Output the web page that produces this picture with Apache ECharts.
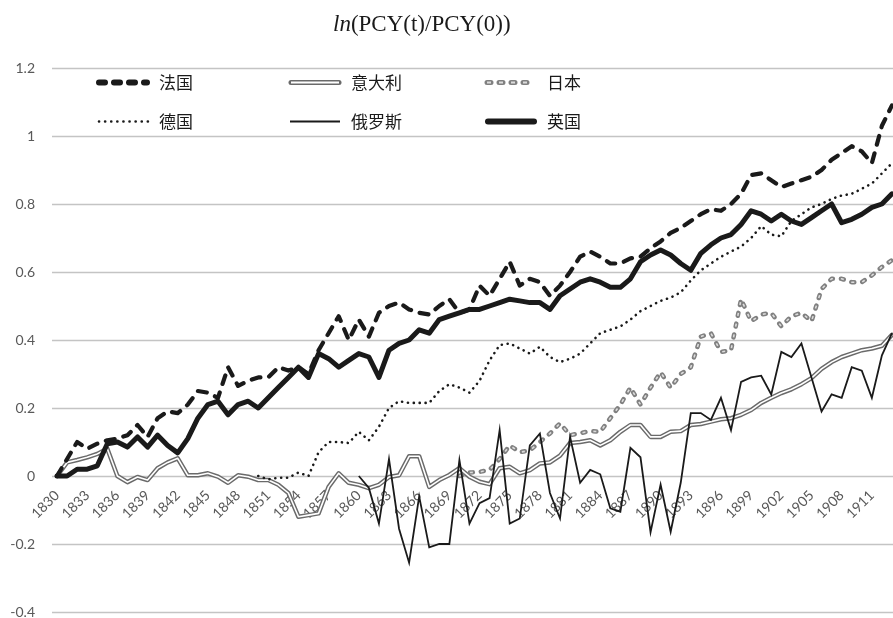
<!DOCTYPE html>
<html>
<head>
<meta charset="utf-8">
<script src="https://cdn.jsdelivr.net/npm/echarts@6/dist/echarts.min.js"></script>
<style>html,body{margin:0;padding:0;background:#fff;}#c{width:893px;height:618px;}</style>
</head>
<body>
<div id="c"></div>
<script>
// Categories: years 1830..1913
var years = [];
for (var y = 1830; y <= 1913; y++) years.push(String(y));

var yTicks = [-0.4, -0.2, 0, 0.2, 0.4, 0.6, 0.8, 1, 1.2];

var france = [0, 0.05, 0.1, 0.08, 0.095, 0.105, 0.11, 0.12, 0.15, 0.115,
  0.17, 0.19, 0.185, 0.21, 0.25, 0.245, 0.23, 0.32, 0.265, 0.28,
  0.29, 0.29, 0.32, 0.31, 0.32, 0.3, 0.37, 0.42, 0.47, 0.4,
  0.46, 0.41, 0.48, 0.5, 0.51, 0.49, 0.48, 0.475, 0.5, 0.52,
  0.48, 0.49, 0.56, 0.53, 0.58, 0.63, 0.56, 0.58, 0.57, 0.53,
  0.56, 0.6, 0.645, 0.66, 0.645, 0.625, 0.625, 0.64, 0.645, 0.67,
  0.69, 0.715, 0.73, 0.75, 0.77, 0.785, 0.78, 0.8, 0.83, 0.885,
  0.89, 0.87, 0.85, 0.86, 0.87, 0.88, 0.9, 0.93, 0.95, 0.97,
  0.955, 0.92, 1.03, 1.09];

var italy = [0, 0.04, 0.047, 0.055, 0.065, 0.08, 0.0, -0.018, -0.003, -0.012,
  0.023, 0.04, 0.052, 0.002, 0.002, 0.008, -0.002, -0.02, 0.002, -0.002,
  -0.012, -0.012, -0.026, -0.05, -0.12, -0.115, -0.11, -0.032, 0.008, -0.02,
  -0.026, -0.036, -0.026, -0.003, 0.002, 0.058, 0.058, -0.032, -0.012, 0.003,
  0.023, -0.002, -0.017, -0.024, 0.023, 0.027, 0.008, 0.017, 0.037, 0.04,
  0.06, 0.097, 0.1, 0.105, 0.09, 0.105, 0.13, 0.15, 0.15, 0.115,
  0.115, 0.13, 0.132, 0.15, 0.153, 0.16, 0.167, 0.17, 0.18, 0.194,
  0.215, 0.23, 0.244, 0.255, 0.27, 0.288, 0.315, 0.335, 0.35, 0.36,
  0.37, 0.375, 0.383, 0.415];

var japan = [null, null, null, null, null, null, null, null, null, null,
  null, null, null, null, null, null, null, null, null, null,
  null, null, null, null, null, null, null, null, null, null,
  null, null, null, null, null, null, null, null, null, null,
  0.0, 0.01, 0.012, 0.018, 0.05, 0.09, 0.07, 0.075, 0.1, 0.125,
  0.155, 0.12, 0.126, 0.132, 0.13, 0.17, 0.21, 0.26, 0.21, 0.26,
  0.305, 0.26, 0.3, 0.32, 0.41, 0.42, 0.365, 0.37, 0.52, 0.455,
  0.475, 0.48, 0.44, 0.47, 0.48, 0.455, 0.55, 0.58, 0.58, 0.57,
  0.57, 0.59, 0.615, 0.635];

var germany = [null, null, null, null, null, null, null, null, null, null,
  null, null, null, null, null, null, null, null, null, null,
  0.0, -0.01, -0.005, -0.005, 0.01, 0.0, 0.07, 0.1, 0.1, 0.097,
  0.13, 0.105, 0.145, 0.2, 0.22, 0.215, 0.215, 0.215, 0.25, 0.27,
  0.26, 0.245, 0.28, 0.34, 0.385, 0.39, 0.375, 0.36, 0.38, 0.35,
  0.335, 0.345, 0.36, 0.39, 0.42, 0.43, 0.44, 0.46, 0.485, 0.5,
  0.515, 0.525, 0.54, 0.575, 0.605, 0.625, 0.645, 0.66, 0.675, 0.7,
  0.735, 0.71, 0.705, 0.75, 0.77, 0.79, 0.8, 0.815, 0.825, 0.83,
  0.845, 0.86, 0.89, 0.92];

var russia = [null, null, null, null, null, null, null, null, null, null,
  null, null, null, null, null, null, null, null, null, null,
  null, null, null, null, null, null, null, null, null, null,
  0.0, -0.035, -0.14, 0.05, -0.155, -0.255, -0.06, -0.21, -0.2, -0.2,
  0.047, -0.14, -0.08, -0.065, 0.135, -0.14, -0.125, 0.09, 0.125, -0.05,
  -0.125, 0.115, -0.02, 0.018, 0.005, -0.095, -0.105, 0.083, 0.055, -0.165,
  -0.025, -0.164, -0.02, 0.185, 0.185, 0.165, 0.23, 0.135, 0.277, 0.29,
  0.295, 0.24, 0.365, 0.35, 0.39, 0.29, 0.19, 0.24, 0.23, 0.32,
  0.31, 0.23, 0.355, 0.42];

var uk = [0, 0.0, 0.02, 0.02, 0.03, 0.095, 0.1, 0.085, 0.115, 0.085,
  0.12, 0.09, 0.068, 0.11, 0.17, 0.21, 0.22, 0.18, 0.21, 0.22,
  0.2, 0.23, 0.26, 0.29, 0.32, 0.29, 0.36, 0.345, 0.32, 0.34,
  0.36, 0.35, 0.29, 0.37, 0.39, 0.4, 0.43, 0.42, 0.46, 0.47,
  0.48, 0.49, 0.49, 0.5, 0.51, 0.52, 0.515, 0.51, 0.51, 0.49,
  0.53, 0.55, 0.57, 0.58, 0.57, 0.555, 0.555, 0.58, 0.63, 0.65,
  0.665, 0.65, 0.625, 0.605, 0.655, 0.68, 0.7, 0.71, 0.74, 0.78,
  0.77, 0.75, 0.77, 0.75, 0.74, 0.76, 0.78, 0.8, 0.745, 0.755,
  0.77, 0.79, 0.8, 0.83];

var names = ['法国', '意大利', '日本', '德国', '俄罗斯', '英国'];

function icon(inner) {
  var s = '<svg xmlns="http://www.w3.org/2000/svg" width="54" height="12" viewBox="0 0 54 12">' + inner + '</svg>';
  return 'image://data:image/svg+xml;charset=utf-8,' + encodeURIComponent(s);
}
var icons = {
  '法国': icon('<line x1="3" y1="6" x2="51" y2="6" stroke="#1a1a1a" stroke-width="6" stroke-dasharray="6 9" stroke-linecap="round"/>'),
  '意大利': icon('<line x1="3" y1="6" x2="51" y2="6" stroke="#6a6a6a" stroke-width="5" stroke-linecap="round"/><line x1="3" y1="6" x2="51" y2="6" stroke="#fff" stroke-width="2"/>'),
  '日本': icon('<line x1="3" y1="6" x2="51" y2="6" stroke="#808080" stroke-width="5" stroke-dasharray="4 8" stroke-linecap="round"/><line x1="3" y1="6" x2="51" y2="6" stroke="#dcdcdc" stroke-width="2" stroke-dasharray="4 8"/>'),
  '德国': icon('<line x1="3" y1="6" x2="52" y2="6" stroke="#1a1a1a" stroke-width="2.6" stroke-dasharray="0.1 6" stroke-linecap="round"/>'),
  '俄罗斯': icon('<line x1="2" y1="6" x2="52" y2="6" stroke="#1a1a1a" stroke-width="2"/>'),
  '英国': icon('<line x1="4" y1="6" x2="50" y2="6" stroke="#1a1a1a" stroke-width="6" stroke-linecap="round"/>')
};
var legendPos = {
  '法国': [96, 74], '意大利': [288, 74], '日本': [484, 74],
  '德国': [96, 113], '俄罗斯': [288, 113], '英国': [484, 113]
};
var legends = names.map(function (n) {
  return {
    data: [{ name: n, icon: icons[n] }],
    left: legendPos[n][0], top: legendPos[n][1],
    itemWidth: 54, itemHeight: 12, itemGap: 0,
    padding: 0,
    selectedMode: false,
    textStyle: { fontFamily: 'Noto Sans CJK SC', fontSize: 17, color: '#1a1a1a', padding: [0, 0, 0, 4] }
  };
});

function line(name, data, ls, z) {
  return {
    name: name, type: 'line', data: data, showSymbol: false, symbol: 'none',
    connectNulls: false, silent: true, z: z,
    lineStyle: ls
  };
}

var series = [
  line('意大利', italy, { color: '#6a6a6a', width: 4.5, join: 'round', cap: 'round' }, 2),
  line('意大利_in', italy, { color: '#ffffff', width: 1.6, join: 'round' }, 3),
  line('日本', japan, { color: '#808080', width: 4.5, type: [3, 8], cap: 'round', join: 'round' }, 2),
  line('日本_in', japan, { color: '#dcdcdc', width: 1.6, type: [3, 8], join: 'round' }, 3),
  line('德国', germany, { color: '#1a1a1a', width: 2.6, type: [0.1, 5.8], cap: 'round', join: 'round' }, 4),
  line('俄罗斯', russia, { color: '#1a1a1a', width: 1.8, join: 'miter' }, 4),
  line('法国', france, { color: '#1a1a1a', width: 4.2, type: [9, 9], cap: 'round', join: 'round' }, 5),
  line('英国', uk, { color: '#1a1a1a', width: 5, join: 'round', cap: 'round' }, 5)
];

var chart = echarts.init(document.getElementById('c'), null, { renderer: 'canvas' });
chart.setOption({
  animation: false,
  backgroundColor: '#ffffff',
  title: {
    text: '{i|ln}{n|(PCY(t)/PCY(0))}',
    left: 328, top: 8,
    textStyle: {
      fontWeight: 'normal',
      rich: {
        i: { fontFamily: 'Liberation Serif', fontStyle: 'italic', fontWeight: 'normal', fontSize: 23, color: '#1a1a1a' },
        n: { fontFamily: 'Liberation Serif', fontWeight: 'normal', fontSize: 23, color: '#1a1a1a' }
      }
    }
  },
  legend: legends,
  grid: { left: 52, right: -4, top: 68, bottom: 6, containLabel: false, outerBoundsMode: 'none' },
  xAxis: {
    type: 'category', data: years, boundaryGap: true,
    position: 'bottom', offset: -136,
    axisLine: { show: false, onZero: false },
    axisTick: { show: false },
    splitLine: { show: false },
    axisLabel: {
      interval: 2, rotate: 45, margin: 17,
      color: '#595959', fontSize: 14, fontFamily: 'Lato'
    }
  },
  yAxis: {
    type: 'value', min: yTicks[0], max: yTicks[yTicks.length - 1], interval: 0.2,
    axisLine: { show: false }, axisTick: { show: false },
    splitLine: { lineStyle: { color: '#c4c4c4', width: 1.4 } },
    axisLabel: {
      margin: 17, color: '#595959', fontSize: 14, fontFamily: 'Lato',
      formatter: function (v) { return String(+v.toFixed(1)); }
    }
  },
  series: series
});
</script>
</body>
</html>
